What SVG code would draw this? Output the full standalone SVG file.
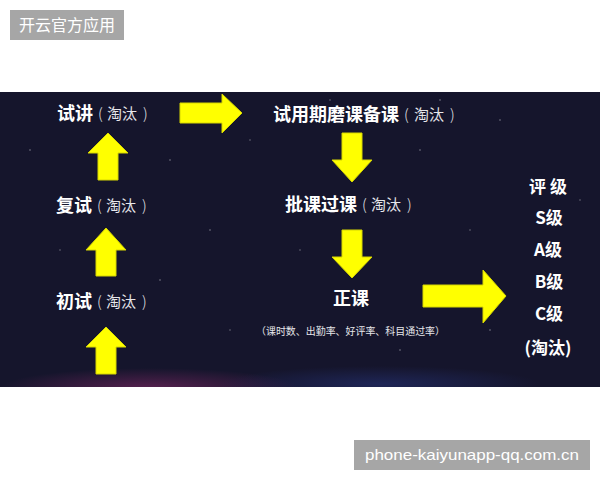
<svg xmlns="http://www.w3.org/2000/svg" width="600" height="480" viewBox="0 0 600 480">
<defs>
<style>
.cjk{font-family:"Noto Sans CJK SC","Noto Sans",sans-serif;}
.main{font-size:18px;font-weight:700;fill:#ffffff;}
.sub{font-size:15px;font-weight:400;fill:#e6e6ea;}
.par{font-weight:300;}
.grade{font-size:17px;font-weight:700;fill:#ffffff;text-anchor:middle;}
.note{font-size:10px;fill:#e6e6ea;}
.arrow{fill:#ffff00;stroke:#d6d600;stroke-width:1;}
.star{fill:#ffffff;opacity:0.45;}
</style>
<clipPath id="panelClip"><rect x="0" y="92" width="600" height="295"/></clipPath>
<radialGradient id="glowPink" cx="0.5" cy="0.5" r="0.5">
<stop offset="0" stop-color="#8a2a6a" stop-opacity="0.55"/>
<stop offset="1" stop-color="#8a2a6a" stop-opacity="0"/>
</radialGradient>
<radialGradient id="glowBlue" cx="0.5" cy="0.5" r="0.5">
<stop offset="0" stop-color="#2a3a8a" stop-opacity="0.45"/>
<stop offset="1" stop-color="#2a3a8a" stop-opacity="0"/>
</radialGradient>
</defs>
<rect x="0" y="0" width="600" height="480" fill="#ffffff"/>
<g id="panel">
<rect x="0" y="92" width="600" height="295" fill="#15152c"/>
<g clip-path="url(#panelClip)">
<ellipse cx="150" cy="388" rx="150" ry="20" fill="url(#glowPink)"/>
<ellipse cx="380" cy="384" rx="160" ry="18" fill="url(#glowBlue)"/>
</g>
<g>
<circle class="star" cx="30" cy="150" r="0.8"/><circle class="star" cx="170" cy="160" r="0.8"/>
<circle class="star" cx="250" cy="140" r="0.7"/><circle class="star" cx="210" cy="230" r="0.8"/>
<circle class="star" cx="300" cy="250" r="0.7"/><circle class="star" cx="420" cy="150" r="0.8"/>
<circle class="star" cx="470" cy="230" r="0.7"/><circle class="star" cx="500" cy="120" r="0.8"/>
<circle class="star" cx="580" cy="200" r="0.7"/><circle class="star" cx="160" cy="280" r="0.8"/>
<circle class="star" cx="60" cy="250" r="0.7"/><circle class="star" cx="400" cy="350" r="0.8"/>
<circle class="star" cx="230" cy="330" r="0.7"/><circle class="star" cx="490" cy="330" r="0.8"/>
<circle class="star" cx="330" cy="100" r="0.7"/><circle class="star" cx="440" cy="100" r="0.8"/>
</g>
</g>
<g id="connectors">
<path class="arrow" d="M180,103 H222 V94 L242,113 L222,133 V123 H180 Z"/>
<path class="arrow" d="M108,133 L128,153 H118 V180 H98 V153 H88 Z"/>
<path class="arrow" d="M106,228 L126,250 H116 V276 H96 V250 H86 Z"/>
<path class="arrow" d="M106,327 L126,347 H116 V374 H96 V347 H86 Z"/>
<path class="arrow" d="M342,133 H362 V160 H372 L352,182 L332,160 H342 Z"/>
<path class="arrow" d="M342,230 H362 V257 H372 L352,278 L332,257 H342 Z"/>
<path class="arrow" d="M423,285 H483 V270 L506,296 L483,323 V307 H423 Z"/>
</g>
<g id="node-shijiang">
<text class="cjk main" x="57" y="120">试讲</text>
<text class="cjk sub" y="119"><tspan class="par" x="98">(</tspan><tspan x="107">淘汰</tspan><tspan class="par" x="143">)</tspan></text>
</g>
<g id="node-fushi">
<text class="cjk main" x="56" y="212">复试</text>
<text class="cjk sub" y="211"><tspan class="par" x="97">(</tspan><tspan x="106">淘汰</tspan><tspan class="par" x="142">)</tspan></text>
</g>
<g id="node-chushi">
<text class="cjk main" x="56" y="308">初试</text>
<text class="cjk sub" y="307"><tspan class="par" x="97">(</tspan><tspan x="106">淘汰</tspan><tspan class="par" x="142">)</tspan></text>
</g>
<g id="node-moke">
<text class="cjk main" x="273" y="121">试用期磨课备课</text>
<text class="cjk sub" y="120"><tspan class="par" x="404">(</tspan><tspan x="414">淘汰</tspan><tspan class="par" x="450">)</tspan></text>
</g>
<g id="node-pike">
<text class="cjk main" x="285" y="211">批课过课</text>
<text class="cjk sub" y="210"><tspan class="par" x="362">(</tspan><tspan x="371">淘汰</tspan><tspan class="par" x="407">)</tspan></text>
</g>
<g id="node-zhengke">
<text class="cjk main" x="333" y="305">正课</text>
<text class="cjk note" x="256" y="335" textLength="189" lengthAdjust="spacingAndGlyphs">（课时数、出勤率、好评率、科目通过率）</text>
</g>
<g id="node-grades">
<text class="cjk grade" x="548" y="193">评 级</text>
<text class="cjk grade" x="549" y="224">S级</text>
<text class="cjk grade" x="548" y="256">A级</text>
<text class="cjk grade" x="549" y="288">B级</text>
<text class="cjk grade" x="549" y="320">C级</text>
<text class="cjk grade" x="548" y="354">(淘汰)</text>
</g>
<g id="label-top">
<rect x="10" y="10" width="114" height="30" fill="#a6a6a6"/>
<text class="cjk" x="67" y="30.5" font-size="16" fill="#ffffff" text-anchor="middle">开云官方应用</text>
</g>
<g id="label-bottom">
<rect x="354" y="440" width="236" height="30" fill="#a6a6a6"/>
<text x="472" y="460" font-family="'Liberation Sans',Arial,sans-serif" font-size="15" fill="#ffffff" text-anchor="middle" textLength="214" lengthAdjust="spacingAndGlyphs">phone-kaiyunapp-qq.com.cn</text>
</g>
</svg>
